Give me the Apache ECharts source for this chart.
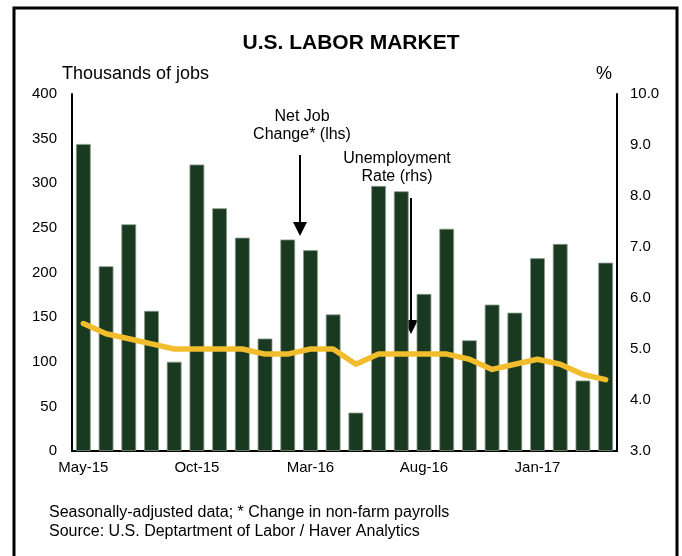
<!DOCTYPE html>
<html>
<head>
<meta charset="utf-8">
<script src="https://cdn.jsdelivr.net/npm/echarts@6/dist/echarts.min.js"></script>
<style>
html,body{margin:0;padding:0;background:#fff;}
#chart{width:682px;height:556px;}
</style>
</head>
<body>
<div id="chart"></div>
<script>
const months = ['May-15','Jun-15','Jul-15','Aug-15','Sep-15','Oct-15','Nov-15','Dec-15',
  'Jan-16','Feb-16','Mar-16','Apr-16','May-16','Jun-16','Jul-16','Aug-16','Sep-16','Oct-16',
  'Nov-16','Dec-16','Jan-17','Feb-17','Mar-17','Apr-17'];
const netJobChange = [344,207,254,157,100,321,272,239,126,237,225,153,43,297,291,176,249,124,164,155,216,232,79,211];
const unemploymentRate = [5.5,5.3,5.2,5.1,5.0,5.0,5.0,5.0,4.9,4.9,5.0,5.0,4.7,4.9,4.9,4.9,4.9,4.8,4.6,4.7,4.8,4.7,4.5,4.4];
const leftTicks = [0,50,100,150,200,250,300,350,400];
const rightTicks = [3.0,4.0,5.0,6.0,7.0,8.0,9.0,10.0];

const FONT = '"Liberation Sans", Arial, sans-serif';
const chart = echarts.init(document.getElementById('chart'));

chart.setOption({
  animation: false,
  backgroundColor: '#fff',
  textStyle: {fontFamily: FONT},
  grid: {left: 72, right: 65, top: 94, bottom: 105},
  xAxis: {
    type: 'category',
    data: months,
    boundaryGap: true,
    axisLine: {show: true, lineStyle: {color: '#000', width: 2}},
    axisTick: {show: false},
    axisLabel: {interval: 4, color: '#000', fontSize: 15, fontFamily: FONT, margin: 9}
  },
  yAxis: [{
    type: 'value', min: leftTicks[0], max: leftTicks[leftTicks.length - 1], interval: 50, position: 'left',
    axisLine: {show: true, lineStyle: {color: '#000', width: 2}},
    axisTick: {show: false},
    splitLine: {show: false},
    axisLabel: {color: '#000', fontSize: 15, fontFamily: FONT, margin: 15}
  }, {
    type: 'value', min: rightTicks[0], max: rightTicks[rightTicks.length - 1], interval: 1, position: 'right',
    axisLine: {show: true, lineStyle: {color: '#000', width: 2}},
    axisTick: {show: false},
    splitLine: {show: false},
    axisLabel: {color: '#000', fontSize: 15, fontFamily: FONT, margin: 13,
      formatter: v => v.toFixed(1)}
  }],
  series: [{
    name: 'Net Job Change* (lhs)',
    type: 'bar',
    data: netJobChange,
    yAxisIndex: 0,
    barCategoryGap: '35%',
    itemStyle: {color: '#193a21', borderColor: '#8a9a8c', borderWidth: 0.8}
  }, {
    name: 'Unemployment Rate (rhs)',
    type: 'line',
    data: unemploymentRate,
    yAxisIndex: 1,
    symbol: 'none',
    lineStyle: {color: '#f2bd2c', width: 5.5, cap: 'round', join: 'round'}
  }],
  graphic: [
    {type: 'rect', shape: {x: 14, y: 8, width: 663, height: 560}, style: {fill: 'none', stroke: '#000', lineWidth: 3}, silent: true},
    {type: 'text', x: 351, y: 43, style: {text: 'U.S. LABOR MARKET', font: 'bold 21px ' + FONT, fill: '#000', textAlign: 'center', textVerticalAlign: 'middle'}},
    {type: 'text', x: 62, y: 74, style: {text: 'Thousands of jobs', font: '18px ' + FONT, fill: '#000', textAlign: 'left', textVerticalAlign: 'middle'}},
    {type: 'text', x: 604, y: 74, style: {text: '%', font: '18px ' + FONT, fill: '#000', textAlign: 'center', textVerticalAlign: 'middle'}},
    {type: 'text', x: 302, y: 117, style: {text: 'Net Job', font: '16px ' + FONT, fill: '#000', textAlign: 'center', textVerticalAlign: 'middle'}},
    {type: 'text', x: 302, y: 135, style: {text: 'Change* (lhs)', font: '16px ' + FONT, fill: '#000', textAlign: 'center', textVerticalAlign: 'middle'}},
    {type: 'line', shape: {x1: 300, y1: 155, x2: 300, y2: 224}, style: {stroke: '#000', lineWidth: 2}},
    {type: 'polygon', shape: {points: [[293, 222], [307, 222], [300, 236]]}, style: {fill: '#000'}},
    {type: 'text', x: 397, y: 159, style: {text: 'Unemployment', font: '16px ' + FONT, fill: '#000', textAlign: 'center', textVerticalAlign: 'middle'}},
    {type: 'text', x: 397, y: 177, style: {text: 'Rate (rhs)', font: '16px ' + FONT, fill: '#000', textAlign: 'center', textVerticalAlign: 'middle'}},
    {type: 'line', shape: {x1: 411, y1: 198, x2: 411, y2: 322}, style: {stroke: '#000', lineWidth: 2}},
    {type: 'polygon', shape: {points: [[404, 320], [418, 320], [411, 334]]}, style: {fill: '#000'}},
    {type: 'text', x: 49, y: 513, style: {text: 'Seasonally-adjusted data; * Change in non-farm payrolls', font: '16px ' + FONT, fill: '#000', textAlign: 'left', textVerticalAlign: 'middle'}},
    {type: 'text', x: 49, y: 532, style: {text: 'Source: U.S. Deptartment of Labor / Haver Analytics', font: '16px ' + FONT, fill: '#000', textAlign: 'left', textVerticalAlign: 'middle'}}
  ]
});
</script>
</body>
</html>
